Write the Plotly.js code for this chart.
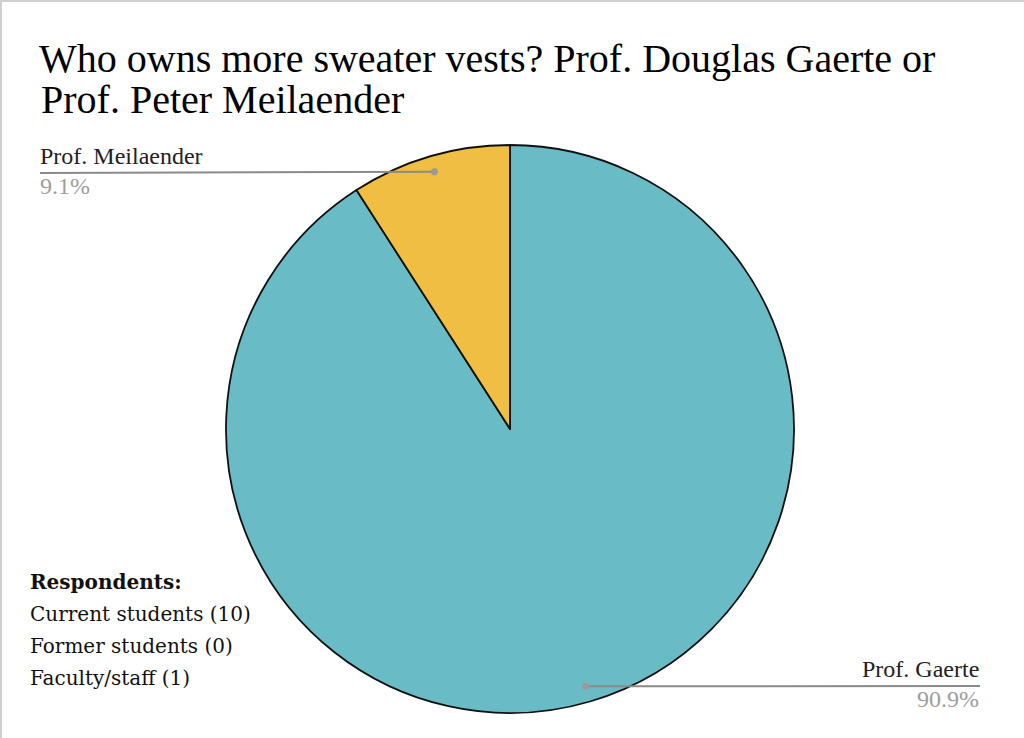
<!DOCTYPE html>
<html>
<head>
<meta charset="utf-8">
<script src="https://cdn.plot.ly/plotly-3.0.1.min.js"></script>
<style>html,body{margin:0;padding:0;background:#fff;}#chart{width:1024px;height:738px;}</style>
</head>
<body>
<div id="chart"></div>
<script>
// ---- data ----
const labels = ['Prof. Gaerte', 'Prof. Meilaender'];
const counts = [10, 1];
const percentText = ['90.9%', '9.1%'];
const colors = ['#69bbc5', '#f0be42'];
const titleLines = ['Who owns more sweater vests? Prof. Douglas Gaerte or', 'Prof. Peter Meilaender'];
const respondentsHeader = 'Respondents:';
const respondents = ['Current students (10)', 'Former students (0)', 'Faculty/staff (1)'];

// ---- layout helpers ----
const W = 1024, H = 738;
const px = x => x / W;
const py = y => 1 - y / H;

// pie geometry (pixels)
const cx = 510, cy = 429, R = 284;

const total = counts.reduce((a, b) => a + b, 0);
// mid-angles of slices, clockwise from 12 o'clock
let acc = 0;
const mids = counts.map(v => { const m = (acc + v / 2) / total * 2 * Math.PI; acc += v; return m; });
const dots = mids.map(a => [cx + 0.944 * R * Math.sin(a), cy - 0.944 * R * Math.cos(a)]);

const serif = 'Liberation Serif, Times New Roman, serif';
const respFont = 'DejaVu Serif, serif';

const annotations = [];
const shapes = [];

// second title line
annotations.push({xref: 'paper', yref: 'paper', x: px(39), y: py(99), xanchor: 'left', yanchor: 'middle',
  text: titleLines[1], showarrow: false, font: {family: serif, size: 40, color: '#000'}});

// slice labels
const labelPos = [
  {x: 981, side: 'right', y: 685},
  {x: 38, side: 'left', y: 172}
];
labels.forEach((lab, i) => {
  const p = labelPos[i];
  annotations.push({xref: 'paper', yref: 'paper', x: px(p.x), y: py(p.y - 16), xanchor: p.side, yanchor: 'middle',
    text: lab, showarrow: false, font: {family: serif, size: 24, color: '#222'}});
  annotations.push({xref: 'paper', yref: 'paper', x: px(p.x), y: py(p.y + 14), xanchor: p.side, yanchor: 'middle',
    text: percentText[i], showarrow: false, font: {family: serif, size: 24, color: '#9e9e9e'}});
  const d = dots[i];
  const lx = p.side === 'left' ? p.x + 2 : p.x - 1;
  shapes.push({type: 'line', xref: 'paper', yref: 'paper', x0: px(lx), y0: py(p.y + 1), x1: px(d[0]), y1: py(d[1]),
    line: {color: '#8a8a8a', width: 2}});
  shapes.push({type: 'circle', xref: 'paper', yref: 'paper', x0: px(d[0] - 3.5), x1: px(d[0] + 3.5), y0: py(d[1] - 3.5), y1: py(d[1] + 3.5),
    fillcolor: '#9a9a9a', line: {width: 0}});
});

// respondents block
annotations.push({xref: 'paper', yref: 'paper', x: px(28), y: py(582), xanchor: 'left', yanchor: 'middle',
  text: '<b>' + respondentsHeader + '</b>', showarrow: false, font: {family: respFont, size: 20, color: '#111'}});
respondents.forEach((t, i) => {
  annotations.push({xref: 'paper', yref: 'paper', x: px(28), y: py(614 + 32 * i), xanchor: 'left', yanchor: 'middle',
    text: t, showarrow: false, font: {family: respFont, size: 20, color: '#111'}});
});

// frame lines (top & left)
shapes.push({type: 'line', xref: 'paper', yref: 'paper', x0: 0, x1: 1, y0: py(1), y1: py(1), line: {color: '#d0d0d0', width: 2}});
shapes.push({type: 'line', xref: 'paper', yref: 'paper', x0: px(1), x1: px(1), y0: 0, y1: 1, line: {color: '#d0d0d0', width: 2}});

const trace = {
  type: 'pie',
  labels: labels,
  values: counts,
  sort: false,
  direction: 'clockwise',
  rotation: 0,
  textinfo: 'none',
  marker: {colors: colors, line: {color: '#111', width: 1.8}},
  domain: {x: [px(cx - R), px(cx + R)], y: [py(cy + R), py(cy - R)]},
  showlegend: false
};

const layout = {
  width: W, height: H,
  margin: {l: 0, r: 0, t: 0, b: 0},
  paper_bgcolor: '#fff',
  title: {text: titleLines[0], xref: 'paper', yref: 'paper', x: px(39), xanchor: 'left', y: py(58), yanchor: 'middle',
    font: {family: serif, size: 40, color: '#000'}},
  annotations: annotations,
  shapes: shapes,
  showlegend: false
};

Plotly.newPlot('chart', [trace], layout, {displayModeBar: false, staticPlot: true});
</script>
</body>
</html>
